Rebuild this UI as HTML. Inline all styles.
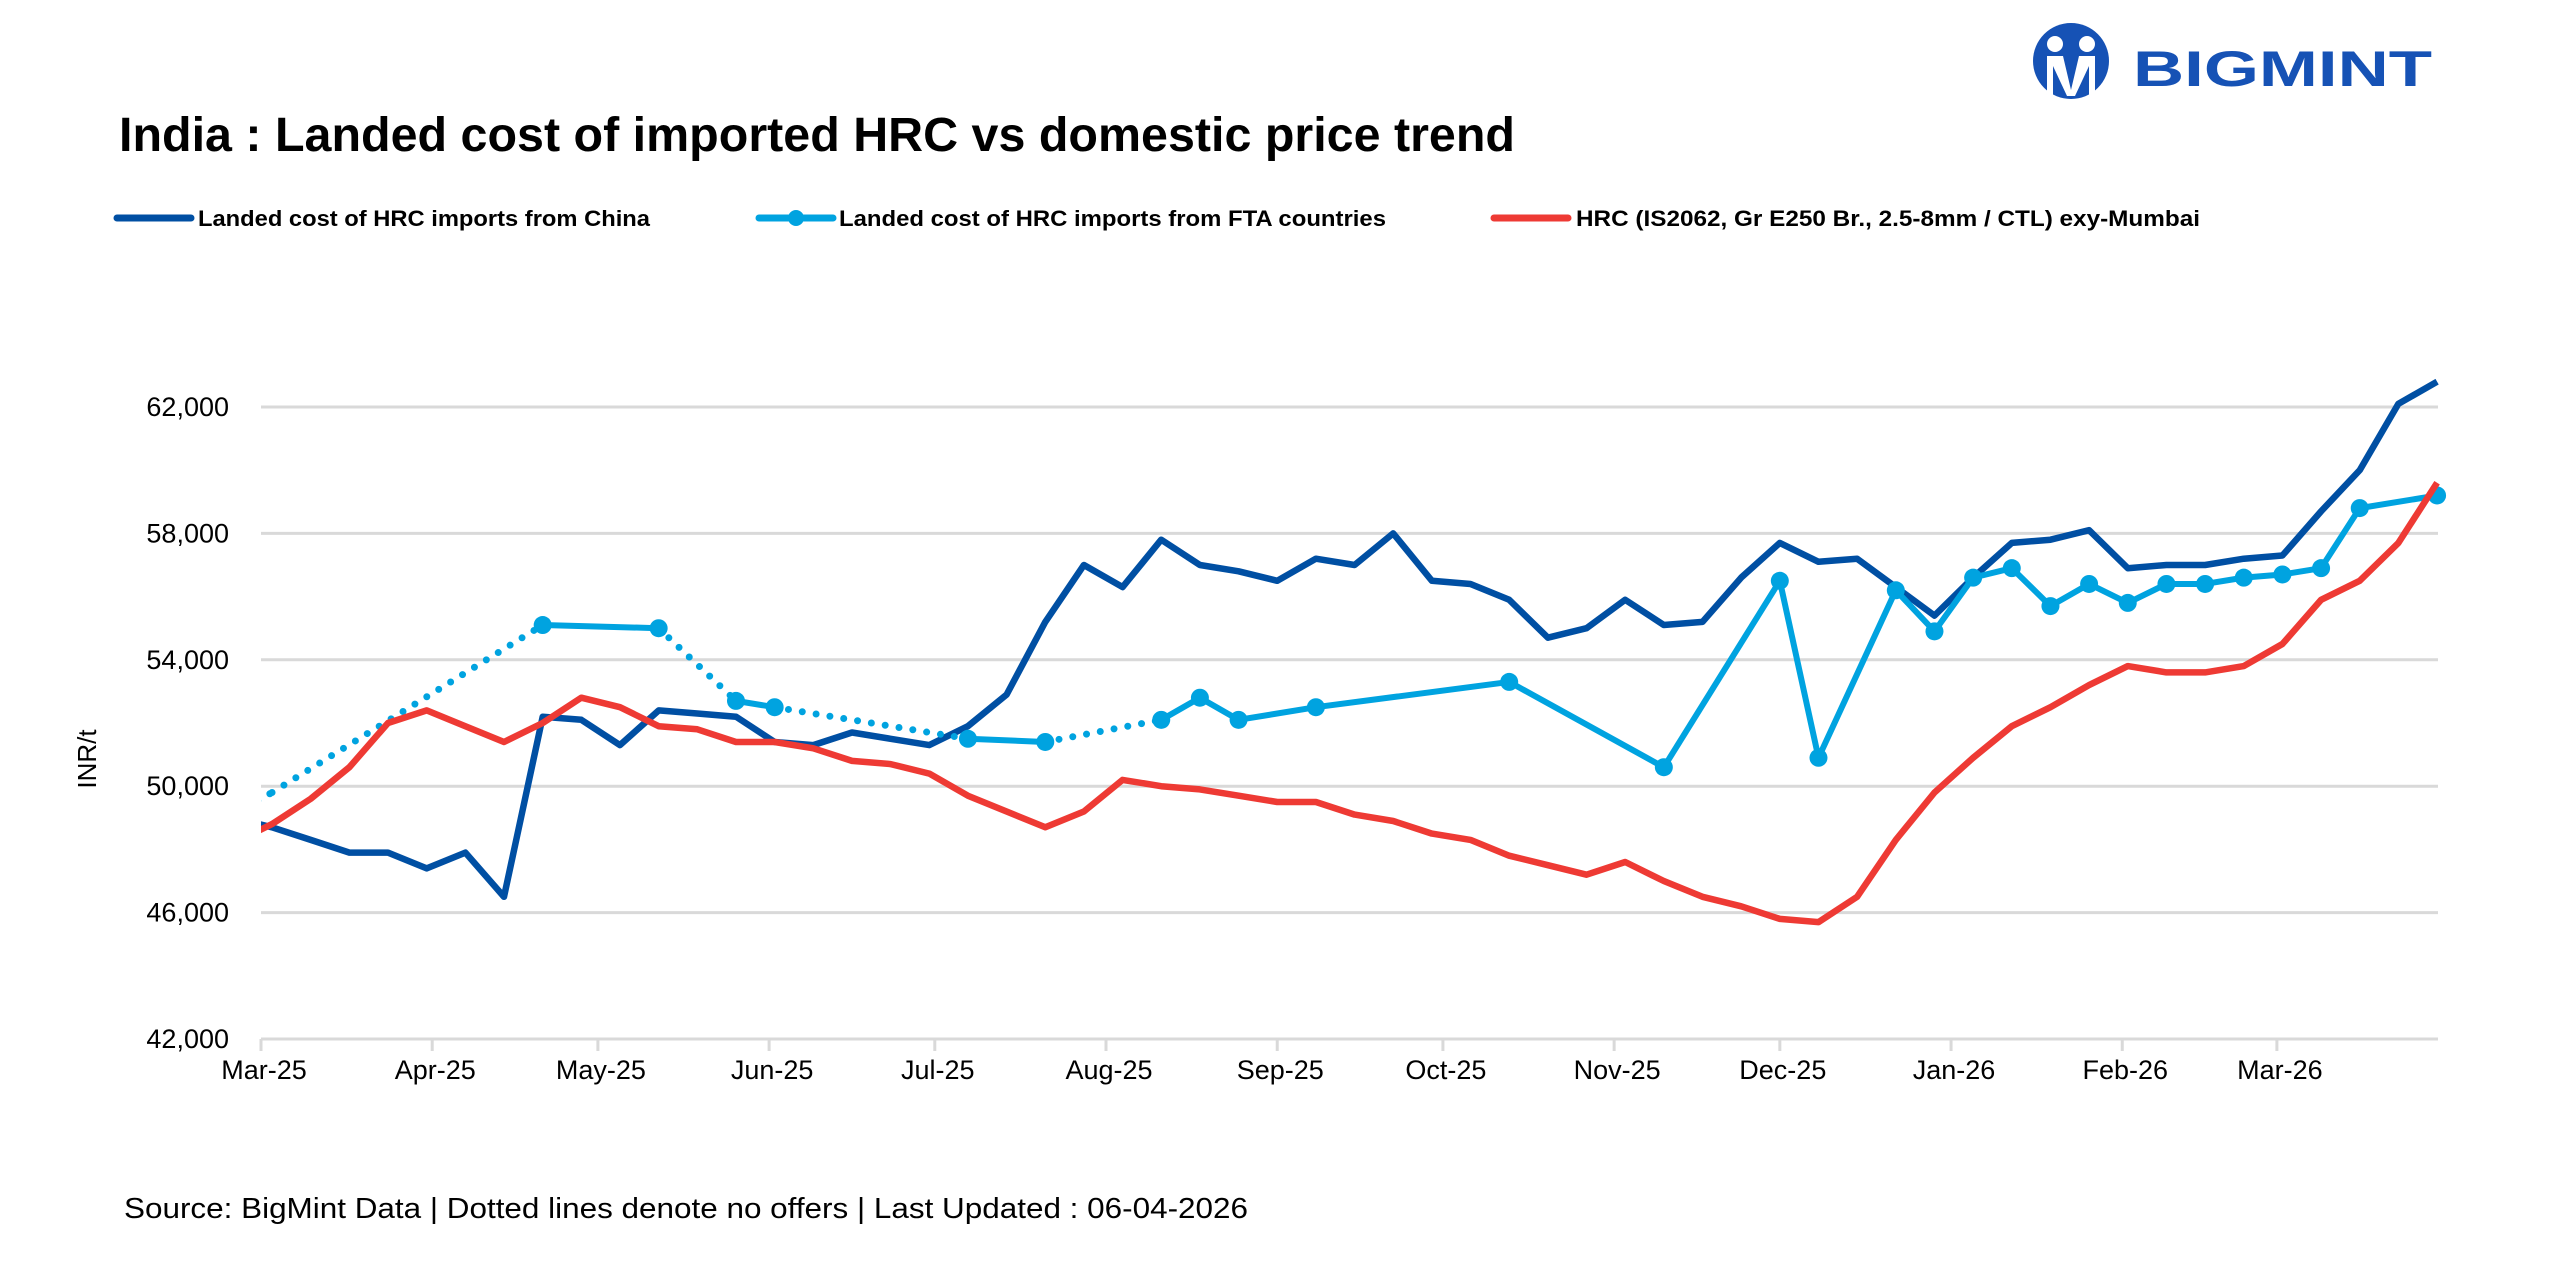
<!DOCTYPE html>
<html><head><meta charset="utf-8"><style>
html,body{margin:0;padding:0;background:#fff;}
svg{display:block;font-family:"Liberation Sans",sans-serif;}
</style></head><body>
<svg id="chart" width="2560" height="1280" viewBox="0 0 2560 1280" xmlns="http://www.w3.org/2000/svg">
<defs><clipPath id="plotclip"><rect x="261" y="300" width="2200" height="760"/></clipPath></defs>
<rect width="2560" height="1280" fill="#fff"/>
<g>
<circle cx="2071" cy="61" r="38" fill="#1652b5"/>
<circle cx="2055" cy="44" r="8" fill="#fff"/>
<circle cx="2087" cy="44" r="8" fill="#fff"/>
<path d="M2047 56 h16 l8 34 l8 -34 h16 v40 h-6 v-30 l-14 30 h-8 l-14 -30 v30 h-6z" fill="#fff"/>
<text x="2133" y="86" font-size="50" font-weight="bold" fill="#1652b5" textLength="299" lengthAdjust="spacingAndGlyphs">BIGMINT</text>
</g>
<text x="119" y="151" font-size="48" font-weight="bold" fill="#000" textLength="1396" lengthAdjust="spacingAndGlyphs">India : Landed cost of imported HRC vs domestic price trend</text>
<g>
<g>
<line x1="117" y1="218" x2="191" y2="218" stroke="#004fa3" stroke-width="7" stroke-linecap="round"/>
<text x="198" y="226" font-size="22" font-weight="bold" textLength="452" lengthAdjust="spacingAndGlyphs">Landed cost of HRC imports from China</text>
</g>
<g>
<line x1="759" y1="218" x2="833" y2="218" stroke="#00a3e0" stroke-width="7" stroke-linecap="round"/>
<circle cx="796" cy="218" r="8" fill="#00a3e0"/>
<text x="839" y="226" font-size="22" font-weight="bold" textLength="547" lengthAdjust="spacingAndGlyphs">Landed cost of HRC imports from FTA countries</text>
</g>
<g>
<line x1="1494" y1="218" x2="1568" y2="218" stroke="#ee3a34" stroke-width="7" stroke-linecap="round"/>
<text x="1576" y="226" font-size="22" font-weight="bold" textLength="624" lengthAdjust="spacingAndGlyphs">HRC (IS2062, Gr E250 Br., 2.5-8mm / CTL) exy-Mumbai</text>
</g>
</g>
<g id="grid"></g>
<g id="axes"></g>
<g id="series" clip-path="url(#plotclip)"></g>
<text transform="translate(96,759) rotate(-90)" text-anchor="middle" font-size="26">INR/t</text>
<text x="124" y="1218" font-size="29" textLength="1124" lengthAdjust="spacingAndGlyphs">Source: BigMint Data | Dotted lines denote no offers | Last Updated : 06-04-2026</text>
</svg>
<script>
const monthLabels = ["Mar-25","Apr-25","May-25","Jun-25","Jul-25","Aug-25","Sep-25","Oct-25","Nov-25","Dec-25","Jan-26","Feb-26","Mar-26"];
const monthDays = [0,31,61,92,122,153,184,214,245,275,306,337,365];
const yTicks = [42000,46000,50000,54000,58000,62000];
const yTickLabels = ["42,000","46,000","50,000","54,000","58,000","62,000"];
const weekDays = [-5,2,9,16,23,30,37,44,51,58,65,72,79,86,93,100,107,114,121,128,135,142,149,156,163,170,177,184,191,198,205,212,219,226,233,240,247,254,261,268,275,282,289,296,303,310,317,324,331,338,345,352,359,366,373,380,387,394];
const china = [49000,48700,48300,47900,47900,47400,47900,46500,52200,52100,51300,52400,52300,52200,51400,51300,51700,51500,51300,51900,52900,55200,57000,56300,57800,57000,56800,56500,57200,57000,58000,56500,56400,55900,54700,55000,55900,55100,55200,56600,57700,57100,57200,56300,55400,56600,57700,57800,58100,56900,57000,57000,57200,57300,58700,60000,62100,62800];
const domestic = [48200,48800,49600,50600,52000,52400,51900,51400,52000,52800,52500,51900,51800,51400,51400,51200,50800,50700,50400,49700,49200,48700,49200,50200,50000,49900,49700,49500,49500,49100,48900,48500,48300,47800,47500,47200,47600,47000,46500,46200,45800,45700,46500,48300,49800,50900,51900,52500,53200,53800,53600,53600,53800,54500,55900,56500,57700,59600];
const fta = [49100,49800,null,null,null,null,null,null,55100,null,null,55000,null,52700,52500,null,null,null,null,51500,null,51400,null,null,52100,52800,52100,null,52500,null,null,null,null,53300,null,null,null,50600,null,null,56500,50900,null,56200,54900,56600,56900,55700,56400,55800,56400,56400,56600,56700,56900,58800,null,59200];
const ftaDottedFrom = [0,1,11,14,21];
const ftaNoMarker = [0,1];

const NS="http://www.w3.org/2000/svg";
const X0=261, PXD=5.523, XEND=2438, Y0=1039, PYV=0.0316;
function xs(d){return X0+d*PXD;}
function ys(v){return Y0-(v-42000)*PYV;}
function mk(tag,attrs,parent){const e=document.createElementNS(NS,tag);for(const k in attrs)e.setAttribute(k,attrs[k]);parent.appendChild(e);return e;}
const grid=document.getElementById('grid'),axes=document.getElementById('axes'),ser=document.getElementById('series');

yTicks.forEach((v,i)=>{
  const l=mk('line',{x1:X0,x2:XEND,y1:ys(v),y2:ys(v),stroke:'#d9d9d9','stroke-width':3},grid);
  
  
  const t=mk('text',{x:229,y:ys(v)+9,'text-anchor':'end','font-size':27},axes);
  t.textContent=yTickLabels[i];
  
  
});
monthDays.forEach((d,i)=>{
  const tk=mk('line',{x1:xs(d),x2:xs(d),y1:Y0,y2:Y0+12,stroke:'#d9d9d9','stroke-width':3},axes);
  
  
  const t=mk('text',{x:xs(d)+3,y:Y0+40,'text-anchor':'middle','font-size':27},axes);
  t.textContent=monthLabels[i];
  
  
});

function pts(arr){return arr.map((v,i)=>xs(weekDays[i]).toFixed(1)+','+ys(v).toFixed(1)).join(' ');}
const chinaLine=mk('polyline',{points:pts(china),fill:'none',stroke:'#004fa3','stroke-width':6.5,'stroke-linejoin':'round'},ser);



const idx=[];fta.forEach((v,i)=>{if(v!==null)idx.push(i);});
for(let k=0;k<idx.length-1;k++){
  const a=idx[k],b=idx[k+1];
  const dotted=ftaDottedFrom.indexOf(a)>=0;
  const attrs={x1:xs(weekDays[a]),y1:ys(fta[a]),x2:xs(weekDays[b]),y2:ys(fta[b]),stroke:'#00a3e0'};
  if(dotted){attrs['stroke-width']=7;attrs['stroke-linecap']='round';attrs['stroke-dasharray']='0 14';}
  else{attrs['stroke-width']=6;}
  const s=mk('line',attrs,ser);
  
  
}
idx.forEach(i=>{
  if(ftaNoMarker.indexOf(i)>=0)return;
  const c=mk('circle',{cx:xs(weekDays[i]),cy:ys(fta[i]),r:9,fill:'#00a3e0'},ser);
  
  
});

const domLine=mk('polyline',{points:pts(domestic),fill:'none',stroke:'#ee3a34','stroke-width':6.5,'stroke-linejoin':'round'},ser);


</script>
</body></html>
